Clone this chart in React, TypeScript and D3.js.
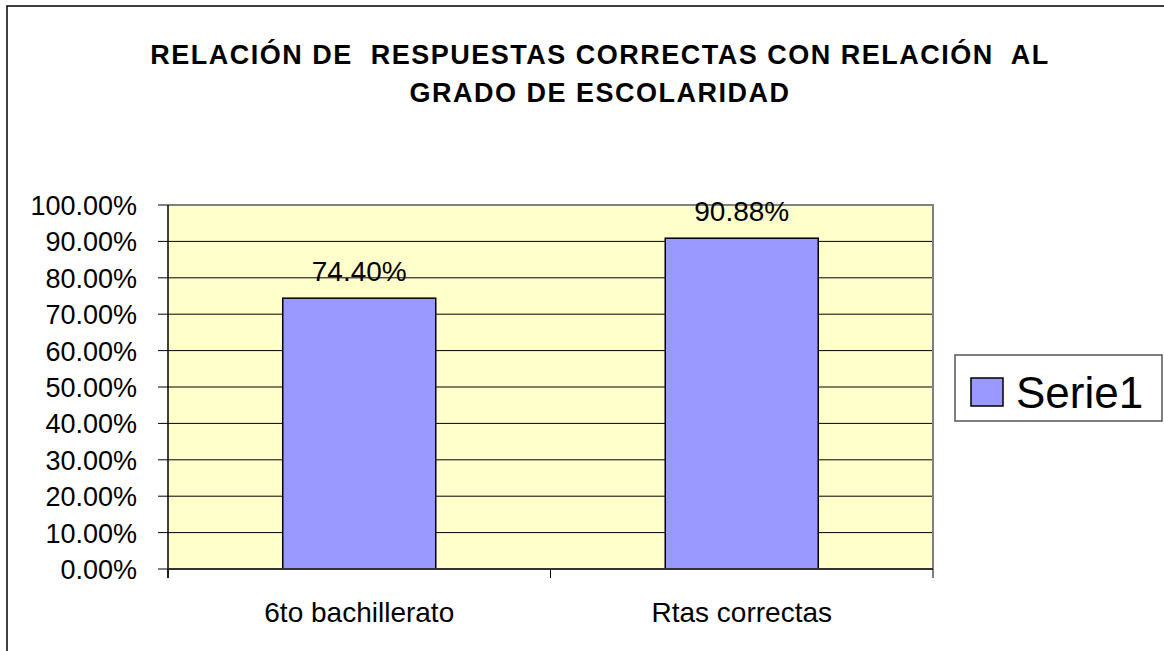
import React, { useEffect, useRef } from 'react';
import * as d3 from 'd3';

const categories = ['6to bachillerato', 'Rtas correctas'];
const values = [74.4, 90.88];
const yTicks = [0, 10, 20, 30, 40, 50, 60, 70, 80, 90, 100];
const seriesName = 'Serie1';
const titleLines = [
  'RELACIÓN DE  RESPUESTAS CORRECTAS CON RELACIÓN  AL',
  'GRADO DE ESCOLARIDAD',
];

const App = () => {
  const ref = useRef<SVGSVGElement>(null);

  useEffect(() => {
    if (!ref.current) return;
    const svg = d3.select(ref.current);
    svg.selectAll('*').remove();

    const font = 'Liberation Sans, Arial, sans-serif';
    const plot = { left: 168, top: 205, right: 933, bottom: 569 };

    // outer chart border (runs off the right and bottom)
    svg.append('rect')
      .attr('x', 7).attr('y', 6)
      .attr('width', 1300).attr('height', 800)
      .attr('fill', '#fff').attr('stroke', '#000').attr('stroke-width', 1.5);

    // title
    svg.append('g').selectAll('text')
      .data(titleLines)
      .enter().append('text')
      .attr('x', 600)
      .attr('y', (d, i) => 64 + i * 38)
      .attr('text-anchor', 'middle')
      .attr('font-family', font)
      .attr('font-weight', 'bold')
      .attr('font-size', 27)
      .attr('letter-spacing', 1.5)
      .style('white-space', 'pre')
      .text(d => d);

    const x = d3.scaleBand<string>()
      .domain(categories)
      .range([plot.left, plot.right])
      .paddingInner(0.6)
      .paddingOuter(0.3);
    const y = d3.scaleLinear().domain([0, 100]).range([plot.bottom, plot.top]);

    // plot background
    svg.append('rect')
      .attr('x', plot.left).attr('y', plot.top)
      .attr('width', plot.right - plot.left).attr('height', plot.bottom - plot.top)
      .attr('fill', '#FFFFCC');

    // gridlines
    svg.append('g').selectAll('line')
      .data(yTicks.filter(t => t > 0 && t < 100))
      .enter().append('line')
      .attr('x1', plot.left).attr('x2', plot.right)
      .attr('y1', d => y(d)).attr('y2', d => y(d))
      .attr('stroke', '#000').attr('stroke-width', 1);

    // plot border top / right (gray)
    svg.append('path')
      .attr('d', `M${plot.left},${plot.top}H${plot.right}V${plot.bottom}`)
      .attr('fill', 'none').attr('stroke', '#808080').attr('stroke-width', 2);

    // bars
    svg.append('g').selectAll('rect')
      .data(values)
      .enter().append('rect')
      .attr('x', (d, i) => x(categories[i])!)
      .attr('y', d => y(d))
      .attr('width', x.bandwidth())
      .attr('height', d => plot.bottom - y(d))
      .attr('fill', '#9999FF')
      .attr('stroke', '#000').attr('stroke-width', 1.5);

    // data labels
    svg.append('g').selectAll('text')
      .data(values)
      .enter().append('text')
      .attr('x', (d, i) => x(categories[i])! + x.bandwidth() / 2)
      .attr('y', d => y(d) - 17)
      .attr('text-anchor', 'middle')
      .attr('font-family', font)
      .attr('font-size', 28)
      .text(d => d.toFixed(2) + '%');

    // y axis
    const yAxis = svg.append('g');
    yAxis.append('line')
      .attr('x1', plot.left).attr('x2', plot.left)
      .attr('y1', plot.top).attr('y2', plot.bottom + 9)
      .attr('stroke', '#000').attr('stroke-width', 1.5);
    yAxis.selectAll('.tick')
      .data(yTicks)
      .enter().append('line')
      .attr('x1', plot.left - 10).attr('x2', plot.left)
      .attr('y1', d => y(d)).attr('y2', d => y(d))
      .attr('stroke', '#000').attr('stroke-width', 1);
    yAxis.selectAll('text')
      .data(yTicks)
      .enter().append('text')
      .attr('x', 137)
      .attr('y', d => y(d) + 10)
      .attr('text-anchor', 'end')
      .attr('font-family', font)
      .attr('font-size', 27)
      .text(d => d.toFixed(2) + '%');

    // x axis
    const xAxis = svg.append('g');
    xAxis.append('line')
      .attr('x1', plot.left).attr('x2', plot.right)
      .attr('y1', plot.bottom).attr('y2', plot.bottom)
      .attr('stroke', '#333').attr('stroke-width', 2);
    const step = x.step();
    const bounds = [plot.left, plot.left + step, plot.right];
    xAxis.selectAll('.tick')
      .data(bounds)
      .enter().append('line')
      .attr('x1', d => d).attr('x2', d => d)
      .attr('y1', plot.bottom).attr('y2', plot.bottom + 9)
      .attr('stroke', '#000').attr('stroke-width', 1);
    xAxis.selectAll('text')
      .data(categories)
      .enter().append('text')
      .attr('x', d => x(d)! + x.bandwidth() / 2)
      .attr('y', 622)
      .attr('text-anchor', 'middle')
      .attr('font-family', font)
      .attr('font-size', 28)
      .text(d => d);

    // legend
    const legend = svg.append('g');
    legend.append('rect')
      .attr('x', 955).attr('y', 355).attr('width', 207).attr('height', 66)
      .attr('fill', '#fff').attr('stroke', '#555').attr('stroke-width', 1.5);
    legend.append('rect')
      .attr('x', 971).attr('y', 378).attr('width', 32).attr('height', 28)
      .attr('fill', '#9999FF').attr('stroke', '#000').attr('stroke-width', 1.5);
    legend.append('text')
      .attr('x', 1016).attr('y', 408)
      .attr('font-family', font)
      .attr('font-size', 44)
      .text(seriesName);
  }, []);

  return (
    <svg
      ref={ref}
      width={1164}
      height={651}
      style={{ position: 'absolute', left: 0, top: 0 }}
    />
  );
};

export default App;
